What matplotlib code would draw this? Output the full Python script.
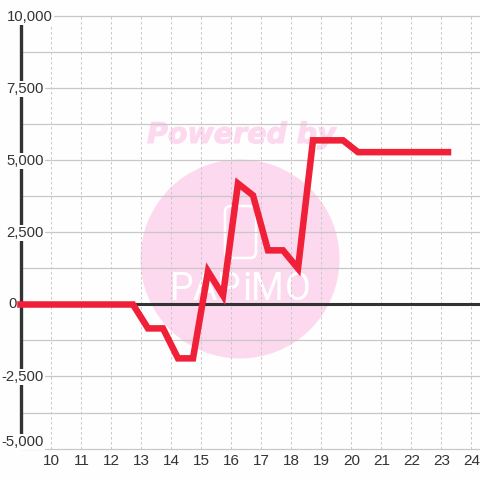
import matplotlib
matplotlib.use('Agg')
import matplotlib.pyplot as plt
import matplotlib.patheffects as pe
from matplotlib.patches import Circle, FancyBboxPatch
from matplotlib.transforms import ScaledTranslation

hours = [9.0, 9.75, 10.25, 10.75, 11.25, 11.75, 12.25, 12.75, 13.25, 13.75, 14.25, 14.75,
         15.25, 15.75, 16.25, 16.75, 17.25, 17.75, 18.25, 18.75, 19.25, 19.75, 20.25, 20.75,
         21.25, 21.75, 22.25, 22.75, 23.25]
values = [0, 0, 0, 0, 0, 0, 0, 0, -830, -830, -1870, -1870,
          1150, 310, 4200, 3790, 1880, 1880, 1250, 5700, 5700, 5700, 5290, 5290,
          5290, 5290, 5290, 5290, 5290]
x_ticks = list(range(10, 25))
y_ticks = [-5000, -2500, 0, 2500, 5000, 7500, 10000]
y_minor = [-3750, -1250, 1250, 3750, 6250, 8750]
logo_letters = ['P', 'A', 'P', 'i', 'M', 'O']
logo_x = [182, 205, 229, 247, 267, 298]

plt.rcParams['font.family'] = ['Liberation Sans', 'DejaVu Sans']

W = 480
BG = '#fefefe'
PINK = '#fcd9ee'
GRID = '#c8c8c8'
DARK = '#333333'

fig = plt.figure(figsize=(4.8, 4.8), dpi=100, facecolor=BG)
# axes from the spine at x=20.5 to the right edge, y=16 to y=448
ax = fig.add_axes([20.5 / W, 1 - 448.5 / W, (W - 20.5) / W, 432 / W], zorder=1)
ax.patch.set_alpha(0)
ax.set_xlim(9, 9 + (W - 20.5) / 30)
ax.set_ylim(-5000, 10000)
for s in ax.spines.values():
    s.set_visible(False)
ax.set_xticks(x_ticks)
ax.set_yticks([])
ax.tick_params(axis='x', length=0, labelsize=11, labelcolor=DARK, pad=4)
for lab in ax.get_xticklabels():
    lab.set_transform(lab.get_transform() + ScaledTranslation(1 / 100, 0, fig.dpi_scale_trans))

# watermark goes under the grid
wm = fig.add_axes([0, 0, 1, 1], facecolor='none', zorder=0)
wm.set_xlim(0, W)
wm.set_ylim(W, 0)
wm.axis('off')
wm.add_patch(Circle((240, 259), 99.5, fc=PINK, ec='none'))
wm.text(241.5, 135, 'Powered by', color=PINK, fontsize=20.5, fontweight='bold', fontstyle='italic',
        family='DejaVu Sans', ha='center', va='center',
        path_effects=[pe.withStroke(linewidth=0.8, foreground=PINK)])
wm.add_patch(FancyBboxPatch((225, 206), 31, 52, boxstyle='round,pad=0,rounding_size=6',
                            fc='none', ec='white', lw=1.9))
for ch, xp in zip(logo_letters, logo_x):
    wm.text(xp, 289.5, ch, color='white', fontsize=27, family='Roboto', ha='center', va='center')

for y in y_minor + y_ticks:
    ax.axhline(y, color=GRID, lw=0.9, zorder=1, clip_on=False)
for x in x_ticks:
    ax.axvline(x, color=GRID, lw=0.72, ls=(0, (2.5, 2.5)), zorder=1)

ax.axvline(9, color=DARK, lw=2.4, zorder=2, clip_on=False, solid_capstyle='butt')
ax.axhline(0, color=DARK, lw=2.2, zorder=2)

# y labels sit on boxes that break the axis line, except the 0 left of it
for y in y_ticks:
    yp = 304 - y * 72 / 2500 + 1
    if y == 10000:
        xp, ha = 6.5, 'left'
    elif y == 0:
        xp, ha = 16.5, 'right'
        yp -= 1
    else:
        xp, ha = 43.5, 'right'
    if y == -5000:
        yp -= 7
    bbox = None if y == 0 else dict(fc=BG, ec='none', pad=1.0)
    ax.text(xp / W, 1 - yp / W, f'{y:,}', transform=fig.transFigure, color=DARK, fontsize=10.7,
            ha=ha, va='center', zorder=2.5, clip_on=False, bbox=bbox)

ax.plot(hours, values, color='#f02038', lw=4.7, solid_joinstyle='miter',
        solid_capstyle='projecting', zorder=3, clip_on=False)

fig.savefig('out.png', dpi=100, facecolor=BG)
